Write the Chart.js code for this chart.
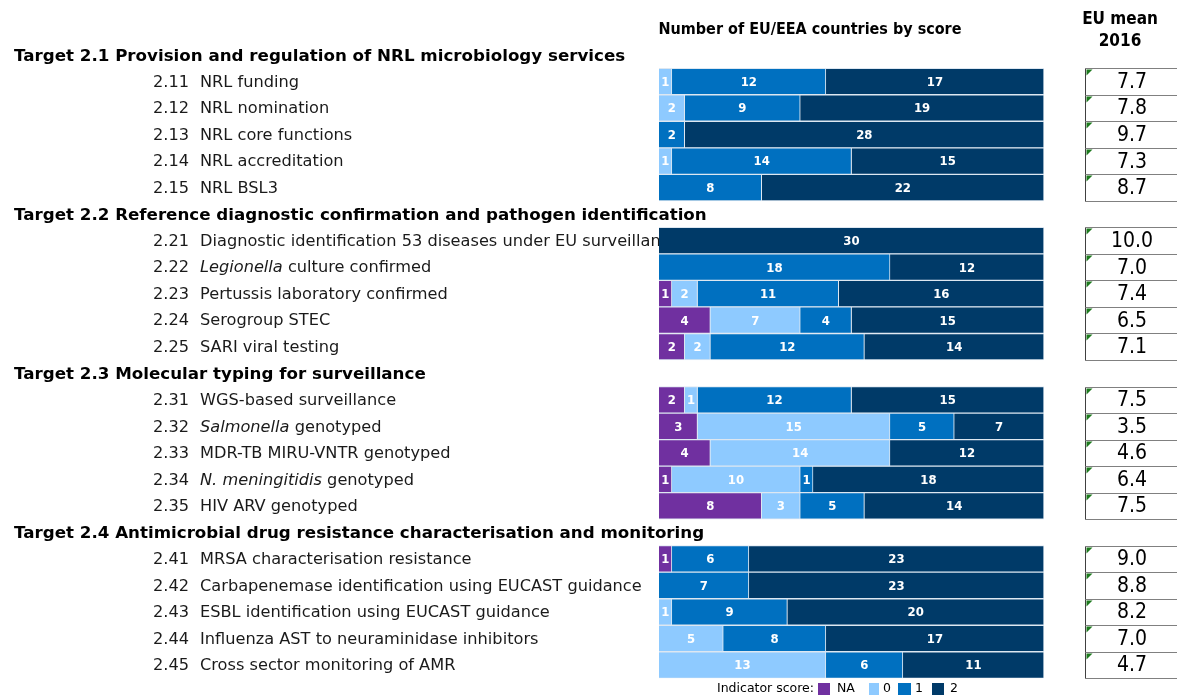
<!DOCTYPE html>
<html>
<head>
<meta charset="utf-8">
<script src="https://cdn.jsdelivr.net/npm/chart.js@4.4.1/dist/chart.umd.min.js"></script>
<style>
  html, body { margin: 0; padding: 0; background: #fff; }
  #wrap { width: 1177px; height: 695px; position: relative; }
</style>
</head>
<body>
<div id="wrap"><canvas id="scoreChart" width="1177" height="695"></canvas></div>
<script>
// row codes ('' = target heading row) and texts, *word* = italic
const rowCodes = [
  '', '2.11', '2.12', '2.13', '2.14', '2.15',
  '', '2.21', '2.22', '2.23', '2.24', '2.25',
  '', '2.31', '2.32', '2.33', '2.34', '2.35',
  '', '2.41', '2.42', '2.43', '2.44', '2.45'
];
const rowTexts = [
  'Target 2.1 Provision and regulation of NRL microbiology services',
  'NRL funding', 'NRL nomination', 'NRL core functions', 'NRL accreditation', 'NRL BSL3',
  'Target 2.2 Reference diagnostic confirmation and pathogen identification',
  'Diagnostic identification 53 diseases under EU surveillance', '*Legionella* culture confirmed',
  'Pertussis laboratory confirmed', 'Serogroup STEC', 'SARI viral testing',
  'Target 2.3 Molecular typing for surveillance',
  'WGS-based surveillance', '*Salmonella* genotyped', 'MDR-TB MIRU-VNTR genotyped',
  '*N. meningitidis* genotyped', 'HIV ARV genotyped',
  'Target 2.4 Antimicrobial drug resistance characterisation and monitoring',
  'MRSA characterisation resistance', 'Carbapenemase identification using EUCAST guidance',
  'ESBL identification using EUCAST guidance', 'Influenza AST to neuraminidase inhibitors',
  'Cross sector monitoring of AMR'
];

// number of countries by score
const scoreNA = [null, 0, 0, 0, 0, 0,  null, 0, 0, 1, 4, 2,  null, 2, 3, 4, 1, 8,  null, 1, 0, 0, 0, 0];
const score0  = [null, 1, 2, 0, 1, 0,  null, 0, 0, 2, 7, 2,  null, 1, 15, 14, 10, 3,  null, 0, 0, 1, 5, 13];
const score1  = [null, 12, 9, 2, 14, 8,  null, 0, 18, 11, 4, 12,  null, 12, 5, 0, 1, 5,  null, 6, 7, 9, 8, 6];
const score2  = [null, 17, 19, 28, 15, 22,  null, 30, 12, 16, 15, 14,  null, 15, 7, 12, 18, 14,  null, 23, 23, 20, 17, 11];

const euMean2016 = [
  null, '7.7', '7.8', '9.7', '7.3', '8.7',
  null, '10.0', '7.0', '7.4', '6.5', '7.1',
  null, '7.5', '3.5', '4.6', '6.4', '7.5',
  null, '9.0', '8.8', '8.2', '7.0', '4.7'
];

const scoreNames = ['NA', '0', '1', '2'];
const scoreColors = ['#7030a0', '#8ecaff', '#0070c0', '#003a68'];

const SANS = "'DejaVu Sans', sans-serif";
const COND = "'DejaVu Sans Condensed', 'DejaVu Sans', sans-serif";

// draws text with *italic* parts
function drawMixed(ctx, text, x, y, font) {
  const parts = text.split('*');
  let cx = x;
  parts.forEach((p, i) => {
    if (!p) return;
    ctx.font = (i % 2 === 1 ? 'italic ' : '') + font;
    ctx.fillText(p, cx, y);
    cx += ctx.measureText(p).width;
  });
}

// row labels, drawn under the bars (the long 2.21 label gets covered)
const rowLabelPlugin = {
  id: 'rowLabels',
  beforeDatasetsDraw(chart) {
    const ctx = chart.ctx;
    const yScale = chart.scales.y;
    ctx.save();
    ctx.textBaseline = 'middle';
    rowCodes.forEach((code, i) => {
      const y = yScale.getPixelForValue(i) + 1;
      if (code === '') {
        ctx.fillStyle = '#000';
        ctx.font = 'bold 16.7px ' + SANS;
        ctx.fillText(rowTexts[i], 14, y + 0.5);
      } else {
        ctx.fillStyle = '#1a1a1a';
        ctx.font = '16.2px ' + SANS;
        ctx.fillText(code, 153, y);
        drawMixed(ctx, rowTexts[i], 200, y, '16.2px ' + SANS);
      }
    });
    ctx.restore();
  }
};

// counts inside segments, EU mean boxes, titles and legend
const overlayPlugin = {
  id: 'overlay',
  afterDatasetsDraw(chart) {
    const ctx = chart.ctx;
    const yScale = chart.scales.y;
    ctx.save();
    ctx.textAlign = 'center';
    ctx.textBaseline = 'middle';
    ctx.fillStyle = '#fff';
    ctx.font = 'bold 13px ' + COND;
    chart.data.datasets.forEach((ds, di) => {
      const meta = chart.getDatasetMeta(di);
      meta.data.forEach((bar, i) => {
        const v = ds.data[i];
        if (!v) return;
        ctx.fillText(String(v), (bar.x + bar.base) / 2, bar.y + 1);
      });
    });

    // EU mean boxes
    const band = yScale.getPixelForValue(1) - yScale.getPixelForValue(0);
    const boxL = 1085.5, boxR = 1180;
    euMean2016.forEach((m, i) => {
      if (m === null) return;
      const yc = yScale.getPixelForValue(i);
      const top = Math.round(yc - band / 2) + 0.5;
      const bot = Math.round(yc + band / 2) + 0.5;
      ctx.fillStyle = '#fff';
      ctx.fillRect(boxL, top, boxR - boxL, bot - top);
      ctx.strokeStyle = '#808080';
      ctx.lineWidth = 1;
      ctx.beginPath();
      ctx.moveTo(boxL, top); ctx.lineTo(boxR, top);
      ctx.moveTo(boxL, bot); ctx.lineTo(boxR, bot);
      ctx.stroke();
      ctx.strokeStyle = '#404040';
      ctx.beginPath();
      ctx.moveTo(boxL, top); ctx.lineTo(boxL, bot);
      ctx.stroke();
      ctx.fillStyle = '#1e7a1e';
      ctx.beginPath();
      ctx.moveTo(boxL + 1, top + 1); ctx.lineTo(boxL + 7, top + 1); ctx.lineTo(boxL + 1, top + 7);
      ctx.closePath();
      ctx.fill();
      ctx.fillStyle = '#000';
      ctx.font = '21px ' + COND;
      ctx.fillText(m, 1132, yc + 1);
    });

    // headings
    ctx.fillStyle = '#000';
    ctx.font = 'bold 16px ' + COND;
    ctx.fillText('Number of EU/EEA countries by score', 810, 30);
    ctx.font = 'bold 17px ' + COND;
    ctx.fillText('EU mean', 1120, 20);
    ctx.fillText('2016', 1120, 42);

    // legend
    ctx.textAlign = 'left';
    ctx.font = '12.5px ' + SANS;
    ctx.fillStyle = '#000';
    ctx.fillText('Indicator score:', 717, 689);
    const boxX = [818, 869, 898, 932];
    const boxW = [12, 10, 13, 12];
    const textX = [837, 883, 915, 950];
    scoreNames.forEach((n, k) => {
      ctx.fillStyle = scoreColors[k];
      ctx.fillRect(boxX[k], 683, boxW[k], 12);
      ctx.fillStyle = '#000';
      ctx.fillText(n, textX[k], 689);
    });
    ctx.restore();
  }
};

new Chart(document.getElementById('scoreChart'), {
  type: 'bar',
  data: {
    labels: rowCodes.map((c, i) => c || 'T' + i),
    datasets: [scoreNA, score0, score1, score2].map((d, k) => ({
      label: scoreNames[k],
      data: d,
      backgroundColor: scoreColors[k],
      borderColor: '#dde7f1',
      borderWidth: 1,
      barPercentage: 1,
      categoryPercentage: 1
    }))
  },
  options: {
    indexAxis: 'y',
    responsive: false,
    animation: false,
    layout: { padding: { left: 659, right: 133, top: 41.7, bottom: 16.7 } },
    scales: {
      x: { stacked: true, min: 0, max: 30, display: false },
      y: { stacked: true, display: false }
    },
    plugins: {
      legend: { display: false },
      tooltip: { enabled: false }
    }
  },
  plugins: [rowLabelPlugin, overlayPlugin]
});
</script>
</body>
</html>
